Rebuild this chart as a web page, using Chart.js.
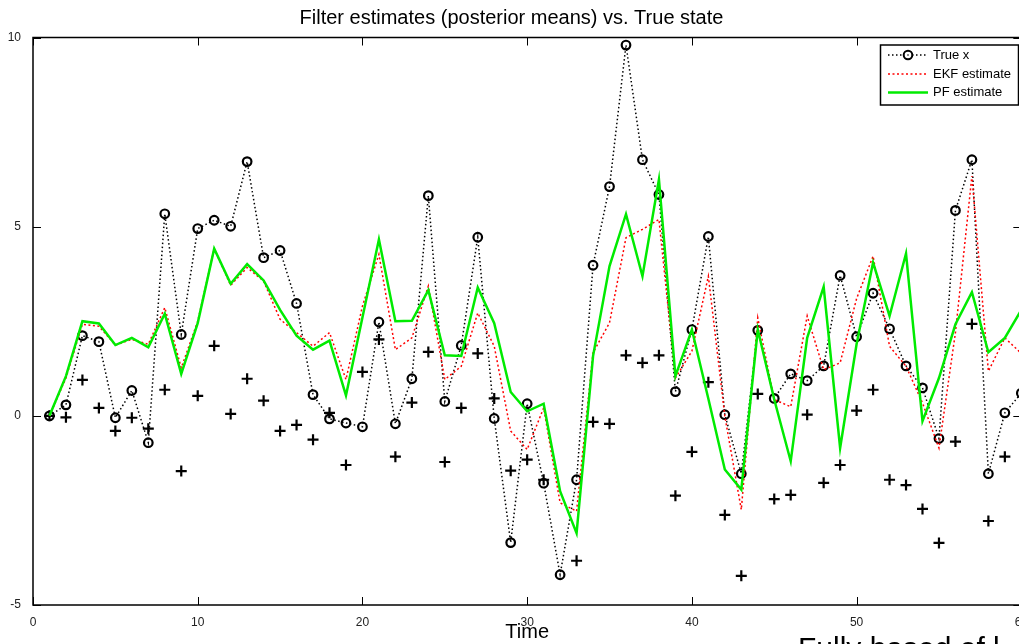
<!DOCTYPE html>
<html>
<head>
<meta charset="utf-8">
<script src="https://cdn.jsdelivr.net/npm/chart.js@4.4.0/dist/chart.umd.min.js"></script>
<style>
  html, body { margin: 0; padding: 0; overflow: hidden; background: #fff; }
  #wrap { position: relative; width: 1019px; height: 644px; overflow: hidden; }
  #plot { position: absolute; left: 0; top: 0; }
  #caption { position: absolute; left: 798px; top: 631px; font: 30px "Liberation Sans", Arial, sans-serif; white-space: nowrap; color: #000; }
</style>
</head>
<body>
<div id="wrap">
  <canvas id="plot" width="1030" height="644"></canvas>
  <div id="caption">Fully based of l</div>
</div>
<script>
const steps = [1, 2, 3, 4, 5, 6, 7, 8, 9, 10, 11, 12, 13, 14, 15, 16, 17, 18, 19, 20,
  21, 22, 23, 24, 25, 26, 27, 28, 29, 30, 31, 32, 33, 34, 35, 36, 37, 38, 39, 40,
  41, 42, 43, 44, 45, 46, 47, 48, 49, 50, 51, 52, 53, 54, 55, 56, 57, 58, 59, 60];

const trueX = [0, 0.29, 2.12, 1.96, -0.05, 0.67, -0.71, 5.34, 2.15, 4.95,
  5.17, 5.01, 6.72, 4.18, 4.37, 2.97, 0.56, -0.08, -0.19, -0.29,
  2.48, -0.21, 0.98, 5.82, 0.38, 1.86, 4.72, -0.07, -3.35, 0.32,
  -1.78, -4.2, -1.69, 3.98, 6.06, 9.8, 6.77, 5.85, 0.64, 2.28,
  4.74, 0.03, -1.53, 2.26, 0.46, 1.11, 0.93, 1.32, 3.71, 2.09,
  3.24, 2.3, 1.32, 0.74, -0.6, 5.43, 6.77, -1.53, 0.08, 0.6];

const observed = [0, -0.04, 0.95, 0.21, -0.4, -0.05, -0.34, 0.69, -1.46, 0.53,
  1.85, 0.05, 0.98, 0.4, -0.4, -0.24, -0.63, 0.08, -1.3, 1.16,
  2.02, -1.08, 0.35, 1.69, -1.22, 0.21, 1.65, 0.46, -1.45, -1.16,
  -1.69, null, -3.83, -0.16, -0.21, 1.6, 1.4, 1.6, -2.11, -0.95,
  0.89, -2.62, -4.23, 0.58, -2.2, -2.09, 0.03, -1.77, -1.3, 0.14,
  0.69, -1.69, -1.83, -2.46, -3.36, -0.68, 2.43, -2.78, -1.08, null];

const ekf = [0, 1.0, 2.42, 2.37, 1.87, 2.02, 1.89, 2.86, 1.27, 2.5,
  4.42, 3.45, 3.92, 3.56, 2.55, 2.2, 1.84, 2.2, 0.96, 2.9,
  4.27, 1.75, 2.06, 3.43, 0.96, 1.31, 2.72, 1.84, -0.4, -0.89,
  0.21, -2.3, -2.52, 1.67, 2.46, 4.71, 4.93, 5.19, 1.0, 1.71,
  3.69, -0.01, -2.48, 2.59, 0.43, 0.24, 2.64, 1.22, 1.4, 3.1,
  4.22, 1.84, 1.31, 0.34, -0.85, 2.2, 6.34, 1.18, 2.06, 1.65];

const pf = [0, 1.05, 2.5, 2.44, 1.87, 2.06, 1.81, 2.7, 1.11, 2.45,
  4.42, 3.49, 4.01, 3.58, 2.8, 2.12, 1.75, 1.99, 0.54, 2.6,
  4.66, 2.5, 2.51, 3.32, 1.6, 1.58, 3.39, 2.45, 0.63, 0.12,
  0.32, -1.99, -3.1, 1.58, 3.96, 5.33, 3.69, 6.25, 1.05, 2.28,
  0.45, -1.42, -1.95, 2.28, 0.43, -1.2, 2.06, 3.41, -0.85, 1.9,
  4.05, 2.64, 4.29, -0.14, 1.0, 2.42, 3.27, 1.68, 2.06, 2.8];

const legendLabels = ['True x', 'EKF estimate', 'PF estimate'];

const RED = 'rgb(255,0,0)';
const GREEN = 'rgb(0,235,0)';

function pts(values) {
  return steps.map((t, i) => ({ x: t, y: values[i] }));
}

Chart.defaults.font.family = '"Liberation Sans", Arial, sans-serif';

// MATLAB style box with inward ticks, plus the legend in the upper right
const matlabFrame = {
  id: 'matlabFrame',
  afterDatasetsDraw(chart) {
    const { ctx, chartArea: a, scales: { x, y } } = chart;
    ctx.save();
    ctx.strokeStyle = '#000';
    ctx.lineWidth = 1;
    ctx.beginPath();
    x.ticks.forEach(t => {
      const p = Math.round(x.getPixelForValue(t.value)) + 0.5;
      ctx.moveTo(p, a.bottom); ctx.lineTo(p, a.bottom - 8);
      ctx.moveTo(p, a.top); ctx.lineTo(p, a.top + 8);
    });
    y.ticks.forEach(t => {
      const p = Math.round(y.getPixelForValue(t.value)) + 0.5;
      ctx.moveTo(a.left, p); ctx.lineTo(a.left + 8, p);
      ctx.moveTo(a.right, p); ctx.lineTo(a.right - 8, p);
    });
    ctx.stroke();
    ctx.lineWidth = 1.5;
    ctx.strokeRect(a.left, a.top, a.right - a.left, a.bottom - a.top);

    // legend
    const bx = 880.5, by = 45, bw = 138, bh = 60;
    ctx.fillStyle = '#fff';
    ctx.fillRect(bx, by, bw, bh);
    ctx.strokeRect(bx, by, bw, bh);
    const rows = [55, 74, 92.5];
    ctx.lineWidth = 1.5;

    ctx.strokeStyle = '#000';
    ctx.setLineDash([1.5, 2.5]);
    ctx.beginPath(); ctx.moveTo(888, rows[0]); ctx.lineTo(928, rows[0]); ctx.stroke();
    ctx.setLineDash([]);
    ctx.fillStyle = '#fff';
    ctx.lineWidth = 2;
    ctx.beginPath(); ctx.arc(908, rows[0], 4.3, 0, Math.PI * 2); ctx.fill(); ctx.stroke();
    ctx.beginPath(); ctx.arc(908, rows[0], 0.8, 0, Math.PI * 2); ctx.fillStyle = '#000'; ctx.fill();

    ctx.strokeStyle = RED;
    ctx.lineWidth = 1.5;
    ctx.setLineDash([2, 2.5]);
    ctx.beginPath(); ctx.moveTo(888, rows[1]); ctx.lineTo(928, rows[1]); ctx.stroke();
    ctx.setLineDash([]);

    ctx.strokeStyle = GREEN;
    ctx.lineWidth = 2.5;
    ctx.beginPath(); ctx.moveTo(888, rows[2]); ctx.lineTo(928, rows[2]); ctx.stroke();

    ctx.fillStyle = '#000';
    ctx.font = '13px "Liberation Sans", Arial, sans-serif';
    ctx.textBaseline = 'middle';
    ctx.textAlign = 'left';
    legendLabels.forEach((s, i) => ctx.fillText(s, 933, rows[i]));
    ctx.restore();
  }
};

new Chart(document.getElementById('plot'), {
  type: 'line',
  data: {
    datasets: [
      {
        label: legendLabels[0],
        data: pts(trueX),
        borderColor: '#000',
        borderWidth: 1.5,
        borderDash: [1.5, 2.5],
        pointStyle: 'circle',
        pointRadius: 4.3,
        pointBorderWidth: 2.2,
        pointBorderColor: '#000',
        pointBackgroundColor: 'rgba(0,0,0,0)',
        order: 4
      },
      {
        label: 'Observations',
        data: pts(observed),
        showLine: false,
        pointStyle: 'cross',
        pointRadius: 5.5,
        pointBorderWidth: 2.2,
        pointBorderColor: '#000',
        order: 3
      },
      {
        label: legendLabels[1],
        data: pts(ekf),
        borderColor: RED,
        borderWidth: 1.5,
        borderDash: [2, 2.5],
        pointRadius: 0,
        order: 2
      },
      {
        label: legendLabels[2],
        data: pts(pf),
        borderColor: GREEN,
        borderWidth: 2.5,
        pointRadius: 0,
        order: 1
      }
    ]
  },
  options: {
    responsive: false,
    animation: false,
    devicePixelRatio: 1,
    layout: { padding: { left: 0, right: 7, top: 0, bottom: 0 } },
    elements: { line: { tension: 0 } },
    plugins: {
      legend: { display: false },
      tooltip: { enabled: false },
      title: {
        display: true,
        text: 'Filter estimates (posterior means) vs. True state',
        color: '#000',
        font: { size: 20, weight: 'normal' },
        padding: { top: 6, bottom: 7.5 }
      }
    },
    scales: {
      x: {
        type: 'linear',
        min: 0,
        max: 60,
        grid: { display: false },
        border: { display: false },
        ticks: { stepSize: 10, color: '#222', font: { size: 12 }, padding: 2, maxRotation: 0 },
        title: { display: true, text: 'Time', color: '#000', font: { size: 20 }, padding: 0 },
        afterFit(s) { s.height = 39; }
      },
      y: {
        min: -5,
        max: 10,
        grid: { display: false },
        border: { display: false },
        ticks: { stepSize: 5, color: '#222', font: { size: 12 }, padding: 4 },
        afterFit(s) { s.width = 33; }
      }
    }
  },
  plugins: [matlabFrame]
});
</script>
</body>
</html>
